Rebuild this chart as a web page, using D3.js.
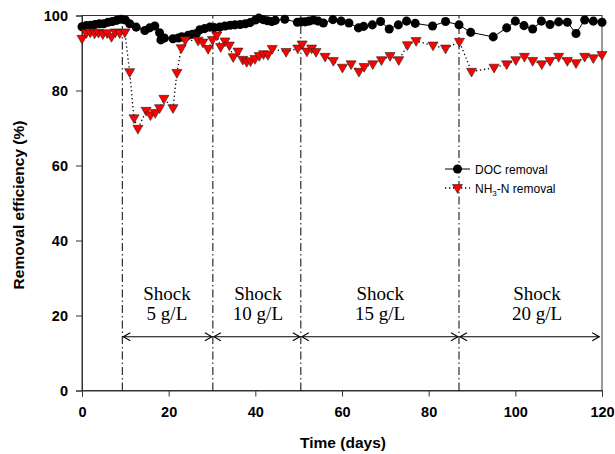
<!DOCTYPE html>
<html>
<head>
<meta charset="utf-8">
<script src="https://cdn.jsdelivr.net/npm/d3@7"></script>
<style>
  body { margin: 0; background: #fff; }
  text { font-family: Arial, "Liberation Sans", sans-serif; }
  text.serif { font-family: "Liberation Serif", "Times New Roman", serif; }
</style>
</head>
<body>
<div id="chart"></div>
<script>
// DOC removal (%) vs time (days)
const docDays = [0, 1, 2, 3, 4, 5, 6, 7, 8, 9, 10, 11, 12.5, 14.5, 15.6, 16.8, 17.9, 18.2, 19, 21, 22.2, 23, 24.5, 25.5, 26.4,
  27.2, 28.3, 29.5, 30.5, 31.8, 33, 34.2, 35.3, 36.5, 37.7, 38.8, 40, 40.8, 41.8, 42.8, 43.8, 44.6, 46.8, 49.7, 50.6, 51.5,
  52.4, 53.4, 54.5, 55.7, 57.9, 59.8, 61.6, 63.8, 65, 67, 68.9, 70.9, 73, 74.9, 76.9, 80.9, 83.9, 87, 89.7, 94.9, 98, 100,
  102, 104, 106, 108, 110, 112, 114, 116, 118, 120];
const docValues = [97.0, 97.3, 97.4, 97.6, 97.8, 97.8, 98.2, 98.4, 98.7, 99.0, 98.8, 97.8, 96.9, 96.0, 96.7, 97.2, 95.4, 93.5, 94.0, 93.8, 94.0, 94.3, 94.7, 95.0, 95.2,
  96.2, 96.5, 96.9, 96.8, 96.9, 97.2, 97.4, 97.5, 97.6, 97.8, 98.1, 98.8, 99.3, 98.9, 98.6, 98.4, 98.7, 99.0, 98.2, 98.3, 98.3,
  98.5, 98.8, 98.5, 98.0, 98.9, 98.5, 98.0, 96.7, 97.1, 97.5, 98.4, 96.4, 97.5, 98.5, 97.9, 97.2, 98.4, 97.5, 95.5, 94.3, 96.7, 98.5,
  97.3, 96.4, 98.5, 97.6, 98.3, 98.2, 95.2, 98.8, 98.5, 98.2];

// NH3-N removal (%) vs time (days)
const nhDays = [0, 1, 1.9, 2.9, 3.8, 4.8, 5.8, 6.8, 7.7, 8.7, 9.9, 11, 12, 12.9, 14.8, 15.8, 16.9, 17.9, 18.9, 21, 21.9, 22.9, 23.8,
  26.8, 27.9, 29.1, 30.1, 31.1, 32, 33, 34, 34.9, 36, 37.1, 38, 38.9, 39.9, 40.9, 41.9, 42.9, 43.9, 47.1, 49.8, 50.8, 51.9,
  53, 54, 56.1, 58, 60.1, 62.1, 63.9, 65.1, 67.1, 69.1, 71.1, 73.1, 75.1, 77.1, 81, 83.9, 87.1, 89.9, 95.1, 98, 100.1, 102.1,
  104, 106.1, 108, 110, 112, 114, 116, 118, 120];
const nhValues = [93.8, 95.3, 95.5, 95.2, 95.4, 95.0, 95.3, 94.3, 95.5, 95.3, 95.5, 84.9, 72.6, 69.8, 74.6, 73.4, 74.0, 75.3, 77.8, 75.3, 84.7, 91.3, 93.4,
  93.3, 92.8, 91.1, 93.5, 94.7, 91.6, 93.1, 92.0, 88.9, 90.4, 88.2, 87.6, 87.8, 88.4, 89.2, 89.7, 89.5, 91.1, 90.3, 91.2, 92.3, 90.4,
  91.2, 90.3, 89.0, 87.9, 86.1, 87.0, 85.0, 86.3, 87.0, 88.1, 89.2, 88.1, 92.1, 93.2, 92.0, 91.2, 93.0, 85.0, 86.1, 87.0, 88.1, 89.0,
  87.9, 87.0, 87.9, 89.0, 87.9, 87.3, 89.0, 88.6, 89.5];

// shock periods
const shockStarts = [9.3, 30.2, 50.5, 87];
const shockEnds = [30.2, 50.5, 87, 119.6];
const shockLabels = ["5 g/L", "10 g/L", "15 g/L", "20 g/L"];
const shockLabelDays = [19.6, 40.6, 68.8, 105];

const xTicks = [0, 20, 40, 60, 80, 100, 120];
const yTicks = [0, 20, 40, 60, 80, 100];

const doc = docDays.map((d, i) => ({ day: d, value: docValues[i] }));
const nh = nhDays.map((d, i) => ({ day: d, value: nhValues[i] }));

const width = 615, height = 454;
const margin = { top: 15.5, right: 13, bottom: 63.5, left: 82 };
const iw = width - margin.left - margin.right;
const ih = height - margin.top - margin.bottom;

const x = d3.scaleLinear().domain([0, 120]).range([0, iw]);
const y = d3.scaleLinear().domain([0, 100]).range([ih, 0]);

const svg = d3.select("#chart").append("svg")
  .attr("width", width)
  .attr("height", height);

const g = svg.append("g").attr("transform", `translate(${margin.left},${margin.top})`);

// frame
g.append("rect")
  .attr("width", iw).attr("height", ih)
  .attr("fill", "none").attr("stroke", "#333").attr("stroke-width", 1);

// axes
g.append("g")
  .attr("transform", `translate(0,${ih})`)
  .call(d3.axisBottom(x).tickValues(xTicks).tickSize(6).tickPadding(10))
  .call(a => a.select(".domain").attr("stroke", "#333"))
  .call(a => a.selectAll(".tick line").attr("stroke", "#333"))
  .call(a => a.selectAll("text").attr("font-size", 14.5).attr("font-weight", "bold")
    .attr("font-family", "Arial, 'Liberation Sans', sans-serif").attr("fill", "#000"));

g.append("g")
  .call(d3.axisLeft(y).tickValues(yTicks).tickSize(6).tickPadding(8))
  .call(a => a.select(".domain").attr("stroke", "#333"))
  .call(a => a.selectAll(".tick line").attr("stroke", "#333"))
  .call(a => a.selectAll("text").attr("font-size", 14.5).attr("font-weight", "bold")
    .attr("font-family", "Arial, 'Liberation Sans', sans-serif").attr("fill", "#000"));

// axis titles
svg.append("text")
  .attr("x", margin.left + iw / 2 + 1).attr("y", 448)
  .attr("text-anchor", "middle")
  .attr("font-size", 15.5).attr("font-weight", "bold")
  .text("Time (days)");

svg.append("text")
  .attr("transform", `translate(24,${margin.top + ih / 2 + 2}) rotate(-90)`)
  .attr("text-anchor", "middle")
  .attr("font-size", 15.5).attr("font-weight", "bold")
  .text("Removal efficiency (%)");

// shock boundaries (dash-dot)
g.append("g").selectAll("line")
  .data(shockStarts)
  .join("line")
  .attr("x1", d => x(d)).attr("x2", d => x(d))
  .attr("y1", y(0)).attr("y2", y(100))
  .attr("stroke", "#000").attr("stroke-width", 1)
  .attr("stroke-dasharray", "8,3,1.5,3");

// shock arrows
const arrows = g.append("g").attr("stroke", "#000").attr("stroke-width", 1.1).attr("fill", "none");
shockStarts.forEach((s, i) => {
  const x1 = x(s) + 1, x2 = x(shockEnds[i]) - 1, yy = y(14.35);
  arrows.append("line").attr("x1", x1).attr("x2", x2).attr("y1", yy).attr("y2", yy);
  arrows.append("path").attr("d", `M${x1 + 7},${yy - 4}L${x1},${yy}L${x1 + 7},${yy + 4}`);
  arrows.append("path").attr("d", `M${x2 - 7},${yy - 4}L${x2},${yy}L${x2 - 7},${yy + 4}`);
});

const shockText = g.append("g").attr("text-anchor", "middle");
shockLabelDays.forEach((d, i) => {
  shockText.append("text").attr("class", "serif").attr("font-size", 19)
    .attr("x", x(d)).attr("y", y(24.1)).text("Shock");
  shockText.append("text").attr("class", "serif").attr("font-size", 19)
    .attr("x", x(d)).attr("y", y(18.8)).text(shockLabels[i]);
});

// lines
const line = d3.line().x(d => x(d.day)).y(d => y(d.value));

g.append("path").datum(doc)
  .attr("d", line)
  .attr("fill", "none").attr("stroke", "#000").attr("stroke-width", 1);

g.append("path").datum(nh)
  .attr("d", line)
  .attr("fill", "none").attr("stroke", "#000").attr("stroke-width", 1.3)
  .attr("stroke-dasharray", "1.3,2.7");

// markers
const circleSym = d3.symbol().type(d3.symbolCircle).size(64);
const triSym = d3.symbol().type(d3.symbolTriangle).size(44);

g.append("g").selectAll("path")
  .data(doc)
  .join("path")
  .attr("d", circleSym)
  .attr("transform", d => `translate(${x(d.day)},${y(d.value)})`)
  .attr("fill", "#000");

g.append("g").selectAll("path")
  .data(nh)
  .join("path")
  .attr("d", triSym)
  .attr("transform", d => `translate(${x(d.day)},${y(d.value) - 0.5}) rotate(180)`)
  .attr("fill", "#ff0000").attr("stroke", "#222").attr("stroke-width", 0.6);

// legend
const lg = svg.append("g").attr("transform", "translate(445,169)");
lg.append("line").attr("x1", 0).attr("x2", 25).attr("y1", 0).attr("y2", 0).attr("stroke", "#000");
lg.append("path").attr("d", circleSym).attr("transform", "translate(12.5,0)").attr("fill", "#000");
lg.append("text").attr("x", 30).attr("y", 4.5).attr("font-size", 12).text("DOC removal");

lg.append("line").attr("x1", 0).attr("x2", 25).attr("y1", 19).attr("y2", 19)
  .attr("stroke", "#000").attr("stroke-width", 1.3).attr("stroke-dasharray", "1.3,2.7");
lg.append("path").attr("d", triSym).attr("transform", "translate(12.5,18.5) rotate(180)")
  .attr("fill", "#ff0000").attr("stroke", "#222").attr("stroke-width", 0.6);
const nt = lg.append("text").attr("x", 30).attr("y", 23.5).attr("font-size", 12);
nt.append("tspan").text("NH");
nt.append("tspan").attr("font-size", 8).attr("dy", 3).text("3");
nt.append("tspan").attr("dy", -3).text("-N removal");
</script>
</body>
</html>
